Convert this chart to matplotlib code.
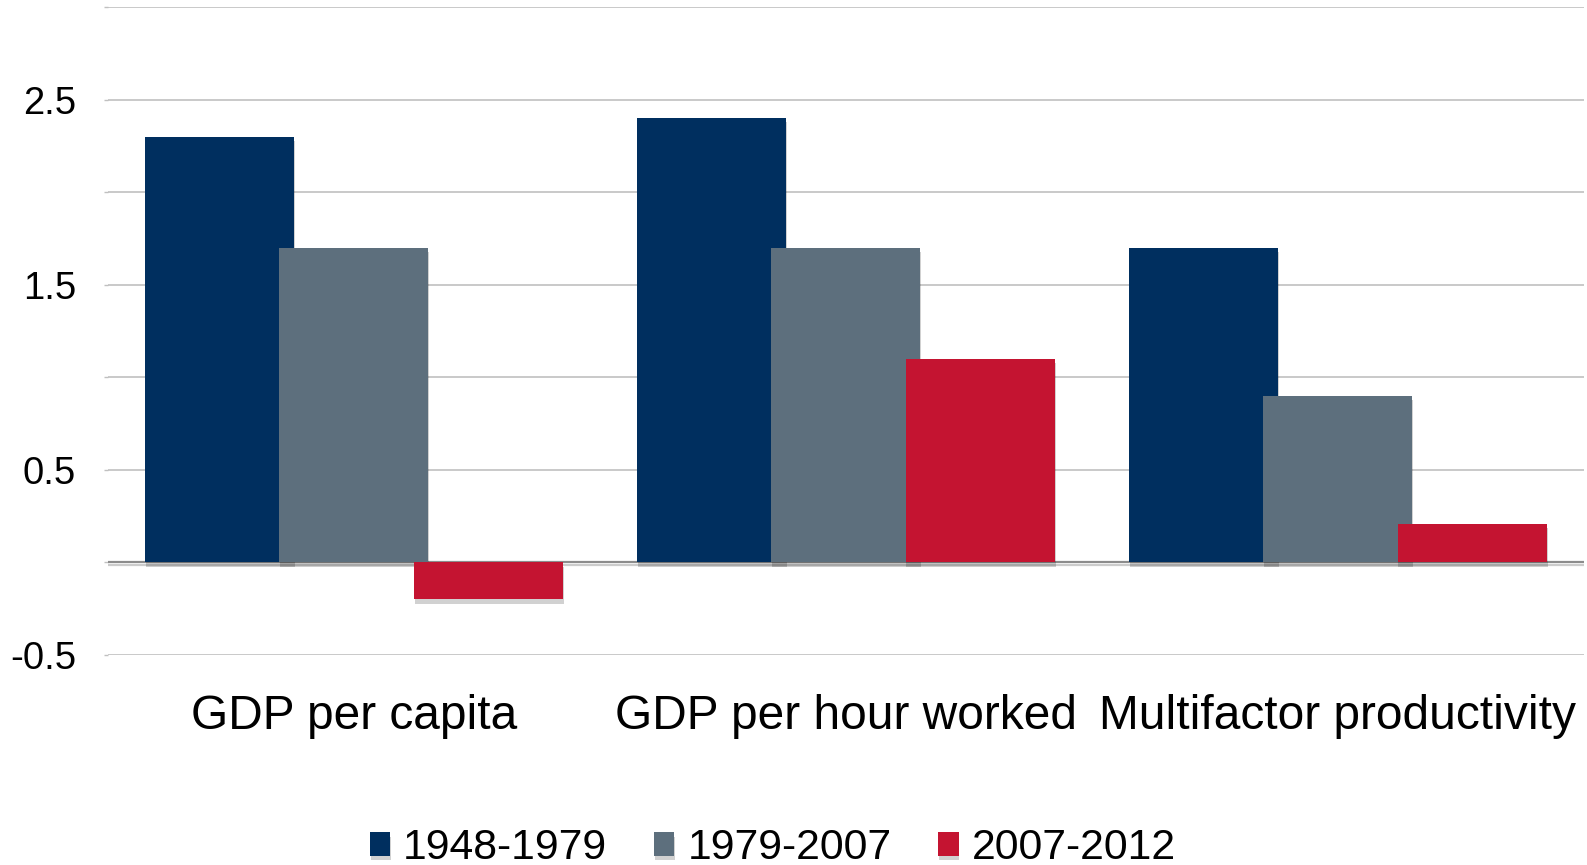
import matplotlib.pyplot as plt
import matplotlib.patheffects as pe
import numpy as np

plt.rcParams['font.family'] = ['Liberation Sans', 'DejaVu Sans']

categories = ["GDP per capita", "GDP per hour worked", "Multifactor productivity"]
periods = ["1948-1979", "1979-2007", "2007-2012"]
values = {
    "1948-1979": [2.3, 2.4, 1.7],
    "1979-2007": [1.7, 1.7, 0.9],
    "2007-2012": [-0.2, 1.1, 0.21],
}
colors = ["#002F5F", "#5D6F7D", "#C41431"]
y_ticks = [-0.5, 0.0, 0.5, 1.0, 1.5, 2.0, 2.5, 3.0]
y_labels = ["-0.5", "", "0.5", "", "1.5", "", "2.5", ""]

fig = plt.figure(figsize=(15.87, 8.65), dpi=100)
ax = fig.add_axes([0.068, 0.2428, 0.930, 0.7491])

x = np.arange(len(categories))
step = 0.273   # distance between bar centres within a group
width = 0.303  # bars overlap a little

shadow = [pe.SimplePatchShadow(offset=(0.6, -3), shadow_rgbFace='black', alpha=0.18),
          pe.Normal()]

for i, (period, color) in enumerate(zip(periods, colors)):
    bars = ax.bar(x + (i - 1) * step, values[period], width=width,
                  color=color, edgecolor='none', zorder=3 + i, label=period)
    for b in bars:
        b.set_path_effects(shadow)

# zero line
ax.axhline(0, color='#8c8c8c', linewidth=1.6, zorder=2,
           path_effects=[pe.SimpleLineShadow(offset=(0, -2), alpha=0.2), pe.Normal()])

ax.set_xlim(-0.5, 2.5)
ax.set_ylim(-0.5, 3.0)
ax.set_yticks(y_ticks)
ax.set_yticklabels(y_labels, fontsize=27.5)
ax.set_xticks(x)
ax.set_xticklabels(categories, fontsize=34.5)

ax.grid(axis='y', color='#c0c0c0', linewidth=1.2, zorder=0)
ax.set_axisbelow(True)

for spine in ax.spines.values():
    spine.set_visible(False)

ax.tick_params(axis='y', length=3, width=1, color='#c0c0c0', pad=20)
ax.tick_params(axis='x', length=0, pad=28)

fig.legend(loc='lower center', bbox_to_anchor=(0.487, -0.004), ncol=3,
           frameon=False, fontsize=30.8, handlelength=0.47, handleheight=0.47,
           handletextpad=0.3, columnspacing=1.1, borderpad=0, borderaxespad=0)

fig.savefig("out.png", dpi=100)
